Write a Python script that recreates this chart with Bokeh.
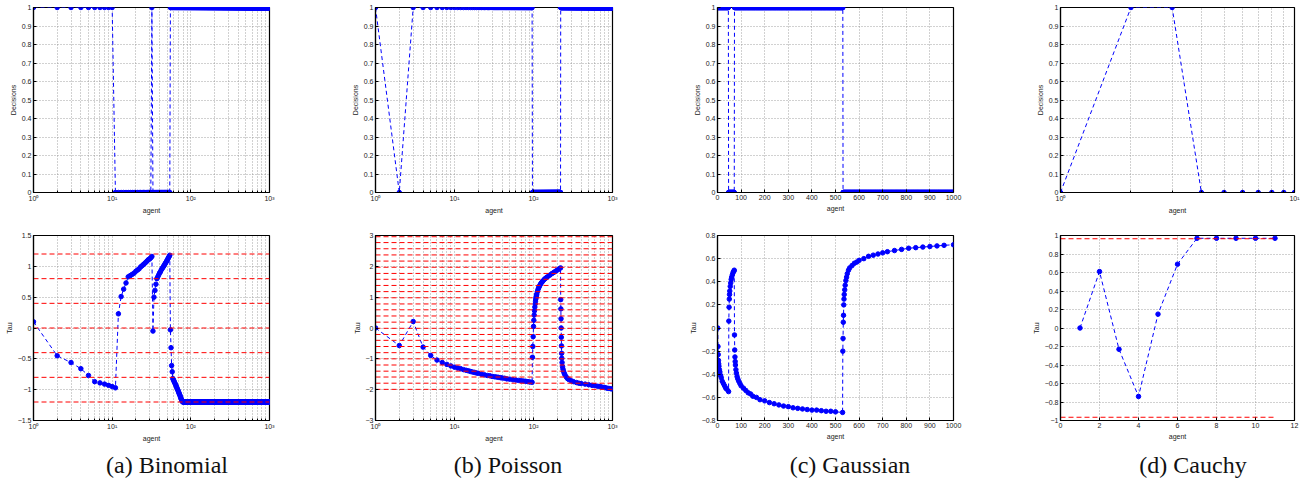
import numpy as np
from bokeh.plotting import figure
from bokeh.layouts import row, column
from bokeh.models import Range1d, FixedTicker, CustomJSTickFormatter, Div
from bokeh.embed import file_html
from bokeh.resources import INLINE

# ---------------------------------------------------------------- data
CAPTIONS = ["(a) Binomial", "(b) Poisson", "(c) Gaussian", "(d) Cauchy"]

# Decisions given as runs: (first agent, last agent, decision)
BINOM_DEC_RUNS = [(1, 10, 1), (11, 31, 0), (32, 32, 1), (33, 54, 0), (55, 1000, 1)]
POIS_DEC_RUNS = [(1, 1, 1), (2, 2, 0), (3, 96, 1), (97, 220, 0), (221, 1000, 1)]
GAUSS_DEC_RUNS = [(1, 46, 1), (47, 71, 0), (72, 531, 1), (532, 1000, 0)]
CAUCHY_DEC_AGENTS = [1, 2, 3, 4, 5, 6, 7, 8, 9, 10]
CAUCHY_DEC = [0, 1, 1, 0, 0, 0, 0, 0, 0, 0]

# Tau, Binomial: agents 1..79 one by one, then a flat run
BINOM_TAU_HEAD = [
    0.10, -0.45, -0.56, -0.66, -0.77, -0.87, -0.89, -0.91, -0.93, -0.95, -0.97,
    0.23, 0.51, 0.63, 0.73, 0.83,
    0.85, 0.87, 0.89, 0.92, 0.94, 0.96, 0.99, 1.01, 1.03, 1.05, 1.07, 1.09, 1.11, 1.12, 1.14, 1.16,
    -0.05, 0.50, 0.61, 0.71, 0.80,
    0.83, 0.86, 0.89, 0.91, 0.94, 0.96, 0.98, 1.00, 1.02, 1.04, 1.06, 1.08, 1.10, 1.12, 1.14, 1.16, 1.18,
    -0.03, -0.32, -0.61, -0.71, -0.82,
    -0.84, -0.86, -0.88, -0.90, -0.92, -0.94, -0.96, -0.98, -1.00, -1.02, -1.04, -1.06, -1.08,
    -1.10, -1.12, -1.14, -1.16, -1.18, -1.19, -1.20,
]
BINOM_TAU_TAIL_RUNS = [(80, 1000, -1.20)]
BINOM_RED = [1.2, 0.8, 0.4, 0.0, -0.4, -0.8, -1.2]
BINOM_RED_X = [1, 1000]

POIS_TAU = [
    (1, 0.00), (2, -0.57), (3, 0.21), (4, -0.62), (5, -0.89), (6, -1.04), (7, -1.12), (8, -1.18),
    (9, -1.23), (10, -1.27), (11, -1.30), (12, -1.32), (13, -1.35), (14, -1.37), (15, -1.39),
    (16, -1.41), (17, -1.43), (18, -1.44), (19, -1.46), (20, -1.47), (22, -1.50), (24, -1.52),
    (26, -1.54), (28, -1.55), (30, -1.57), (32, -1.58), (34, -1.59), (36, -1.60), (38, -1.61),
    (40, -1.62), (43, -1.63), (46, -1.65), (50, -1.66), (55, -1.68), (60, -1.69), (65, -1.70),
    (70, -1.71), (75, -1.72), (80, -1.73), (85, -1.74), (90, -1.75), (96, -1.76),
    (97, -0.95), (98, -0.60), (99, -0.28), (100, 0.05), (101, 0.25), (102, 0.42), (103, 0.56),
    (104, 0.68), (105, 0.78), (106, 0.87), (107, 0.94), (108, 1.00), (109, 1.06), (110, 1.10),
    (112, 1.18), (114, 1.25), (116, 1.30), (118, 1.34), (120, 1.38), (123, 1.43), (126, 1.47),
    (130, 1.51), (135, 1.56), (140, 1.60), (145, 1.63), (150, 1.66), (160, 1.71), (170, 1.76),
    (180, 1.80), (190, 1.84), (200, 1.88), (210, 1.91), (220, 1.95),
    (221, 0.92), (222, 0.62), (223, 0.30), (224, 0.00), (225, -0.30), (226, -0.58), (227, -0.82),
    (228, -0.98), (230, -1.12), (233, -1.25), (236, -1.33), (240, -1.40), (245, -1.47),
    (250, -1.52), (260, -1.59), (270, -1.64), (280, -1.67), (300, -1.71), (320, -1.74),
    (350, -1.77), (375, -1.79), (400, -1.80), (450, -1.82), (500, -1.84), (550, -1.86),
    (600, -1.87), (650, -1.89), (700, -1.90), (750, -1.92), (800, -1.93), (850, -1.95),
    (900, -1.96), (950, -1.97), (1000, -1.98),
]
POIS_RED = [-1.99, -1.79, -1.59, -1.40, -1.20, -1.00, -0.80, -0.60, -0.40, -0.21, -0.01, 0.19,
            0.39, 0.59, 0.78, 0.98, 1.18, 1.38, 1.58, 1.77, 1.97, 2.17, 2.37, 2.57, 2.77, 2.96]
POIS_RED_X = [1, 1000]

GAUSS_TAU = [
    (1, 0.00), (2, -0.16), (3, -0.23), (4, -0.28), (5, -0.31), (6, -0.33), (8, -0.36), (10, -0.38),
    (13, -0.41), (16, -0.43), (20, -0.46), (25, -0.48), (30, -0.50), (35, -0.52), (40, -0.53),
    (47, -0.55),
    (48, 0.06), (49, 0.18), (50, 0.25), (51, 0.29), (52, 0.32), (54, 0.36), (56, 0.39), (58, 0.42),
    (60, 0.44), (63, 0.46), (66, 0.48), (69, 0.49), (71, 0.50),
    (72, -0.06), (73, -0.19), (74, -0.25), (75, -0.29), (76, -0.32), (78, -0.36), (80, -0.39),
    (83, -0.42), (86, -0.44), (90, -0.46), (95, -0.48), (100, -0.50), (110, -0.52), (120, -0.54),
    (130, -0.56), (140, -0.57), (150, -0.59), (165, -0.60), (180, -0.62), (200, -0.63),
    (220, -0.645), (240, -0.655), (260, -0.665), (280, -0.675), (300, -0.68), (320, -0.69),
    (340, -0.695), (360, -0.70), (380, -0.705), (400, -0.71), (420, -0.71), (440, -0.715),
    (460, -0.72), (480, -0.72), (500, -0.725), (530, -0.73),
    (531, -0.20), (532, -0.09), (533, 0.05), (534, 0.11), (535, 0.20), (536, 0.25), (537, 0.29),
    (539, 0.33), (541, 0.37), (544, 0.41), (547, 0.44), (550, 0.47), (555, 0.50), (560, 0.52),
    (570, 0.54), (580, 0.56), (590, 0.57), (600, 0.585), (620, 0.60), (640, 0.62), (660, 0.63),
    (680, 0.64), (700, 0.65), (720, 0.66), (750, 0.67), (780, 0.68), (810, 0.69), (840, 0.695),
    (870, 0.70), (900, 0.705), (930, 0.71), (960, 0.715), (1000, 0.72),
]

CAUCHY_TAU_AGENTS = [1, 2, 3, 4, 5, 6, 7, 8, 9, 10, 11]
CAUCHY_TAU = [0.00, 0.61, -0.23, -0.74, 0.15, 0.69, 0.97, 0.97, 0.97, 0.97, 0.97]
CAUCHY_RED = [0.965, -0.965]
CAUCHY_RED_X = [0, 11]

# ticks
LOG3_TICKS = [1, 10, 100, 1000]
LOG3_MINOR = [2, 3, 4, 5, 6, 7, 8, 9, 20, 30, 40, 50, 60, 70, 80, 90,
              200, 300, 400, 500, 600, 700, 800, 900]
LOG1_TICKS = [1, 10]
LOG1_MINOR = [2, 3, 4, 5, 6, 7, 8, 9]
GAUSS_XTICKS = [0, 100, 200, 300, 400, 500, 600, 700, 800, 900, 1000]
CAUCHY_XTICKS = [0, 2, 4, 6, 8, 10, 12]
DEC_YTICKS = [0, 0.1, 0.2, 0.3, 0.4, 0.5, 0.6, 0.7, 0.8, 0.9, 1]
BINOM_YTICKS = [-1.5, -1, -0.5, 0, 0.5, 1, 1.5]
POIS_YTICKS = [-3, -2, -1, 0, 1, 2, 3]
GAUSS_YTICKS = [-0.8, -0.6, -0.4, -0.2, 0, 0.2, 0.4, 0.6, 0.8]
CAUCHY_YTICKS = [-1, -0.8, -0.6, -0.4, -0.2, 0, 0.2, 0.4, 0.6, 0.8, 1]


def expand(runs):
    xs, ys = [], []
    for a, b, v in runs:
        xs.extend(range(a, b + 1))
        ys.extend([v] * (b - a + 1))
    return xs, ys


# ---------------------------------------------------------------- style
BLUE = "#0000ff"
FONT = "Liberation Sans"

LOG_FMT = CustomJSTickFormatter(code="""
const sup = {'0':'\u2070','1':'\u00b9','2':'\u00b2','3':'\u00b3'};
const e = Math.round(Math.log10(tick));
return '10' + String(e).split('').map(c => sup[c]).join('');
""")


def num_fmt():
    return CustomJSTickFormatter(code="""
const v = Math.round(tick*1000)/1000;
if (v < 0) return '\u2212' + String(-v);
return String(v);
""")


# column geometry: (left border, frame width, right border)
COLS = [(33, 236, 53), (53, 237, 48), (57, 236, 32), (75, 234, 10)]
TOP_ROW = (7, 185, 28)
BOT_ROW = (15, 185, 25)


def panel(col, rowg, xlog, xr, yr, xticks, xminor, yticks, ylabel):
    bl, fw, br = COLS[col]
    bt, fh, bb = rowg
    p = figure(x_axis_type="log" if xlog else "linear",
               x_range=Range1d(*xr), y_range=Range1d(*yr),
               frame_width=fw, frame_height=fh,
               min_border_left=bl, min_border_right=br,
               min_border_top=bt, min_border_bottom=bb,
               output_backend="svg", toolbar_location=None,
               background_fill_color="white", border_fill_color="white")
    xt = FixedTicker(ticks=xticks, minor_ticks=xminor)
    yt = FixedTicker(ticks=yticks, minor_ticks=[])
    p.xaxis.ticker = xt
    p.yaxis.ticker = yt
    p.xgrid.ticker = xt
    p.ygrid.ticker = yt
    p.xaxis.formatter = LOG_FMT if xlog else num_fmt()
    p.yaxis.formatter = num_fmt()
    for ax in (p.xaxis, p.yaxis):
        ax.major_label_text_font = FONT
        ax.major_label_text_font_size = "7px"
        ax.major_label_text_color = "#222222"
        ax.axis_label_text_font = FONT
        ax.axis_label_text_font_size = "7px"
        ax.axis_label_text_font_style = "normal"
        ax.axis_label_text_color = "#222222"
        ax.axis_line_color = "black"
        ax.axis_line_width = 1.2
        ax.major_tick_in = 3
        ax.major_tick_out = 0
        ax.minor_tick_in = 2
        ax.minor_tick_out = 0
        ax.major_label_standoff = 2
        ax.axis_label_standoff = 2
    p.xaxis.axis_label = "agent"
    p.yaxis.axis_label = ylabel
    for g in (p.xgrid, p.ygrid):
        g.grid_line_color = "#8a8a8a"
        g.grid_line_dash = "1 2"
        g.grid_line_width = 0.8
    if xlog:
        p.xgrid.minor_grid_line_color = "#8a8a8a"
        p.xgrid.minor_grid_line_dash = "1 2"
        p.xgrid.minor_grid_line_width = 0.8
    p.outline_line_color = "black"
    p.outline_line_width = 1.2
    return p


def series(p, xs, ys, size=4.5):
    p.line(xs, ys, line_color=BLUE, line_width=1, line_dash="4 3")
    p.scatter(xs, ys, marker="circle", size=size, fill_color=BLUE, line_color=BLUE)


def red_lines(p, xr, ys):
    p.segment(x0=[xr[0]] * len(ys), y0=ys, x1=[xr[1]] * len(ys), y1=ys,
              line_color="#ff0000", line_width=1, line_dash="5 3")


# ---------------------------------------------------------------- top row
pa1 = panel(0, TOP_ROW, True, (1, 1000), (0, 1), LOG3_TICKS, LOG3_MINOR, DEC_YTICKS, "Decisions")
series(pa1, *expand(BINOM_DEC_RUNS))
pb1 = panel(1, TOP_ROW, True, (1, 1000), (0, 1), LOG3_TICKS, LOG3_MINOR, DEC_YTICKS, "Decisions")
series(pb1, *expand(POIS_DEC_RUNS))
pc1 = panel(2, TOP_ROW, False, (0, 1000), (0, 1), GAUSS_XTICKS, [], DEC_YTICKS, "Decisions")
series(pc1, *expand(GAUSS_DEC_RUNS))
pd1 = panel(3, TOP_ROW, True, (1, 10), (0, 1), LOG1_TICKS, LOG1_MINOR, DEC_YTICKS, "Decisions")
series(pd1, CAUCHY_DEC_AGENTS, CAUCHY_DEC)

# ---------------------------------------------------------------- bottom row
pa2 = panel(0, BOT_ROW, True, (1, 1000), (-1.5, 1.5), LOG3_TICKS, LOG3_MINOR, BINOM_YTICKS, "Tau")
bx = list(range(1, len(BINOM_TAU_HEAD) + 1))
tx, ty = expand(BINOM_TAU_TAIL_RUNS)
series(pa2, bx + tx, BINOM_TAU_HEAD + ty)
red_lines(pa2, BINOM_RED_X, BINOM_RED)

pb2 = panel(1, BOT_ROW, True, (1, 1000), (-3, 3), LOG3_TICKS, LOG3_MINOR, POIS_YTICKS, "Tau")
series(pb2, [a for a, _ in POIS_TAU], [v for _, v in POIS_TAU])
red_lines(pb2, POIS_RED_X, POIS_RED)

pc2 = panel(2, BOT_ROW, False, (0, 1000), (-0.8, 0.8), GAUSS_XTICKS, [], GAUSS_YTICKS, "Tau")
series(pc2, [a for a, _ in GAUSS_TAU], [v for _, v in GAUSS_TAU])

pd2 = panel(3, BOT_ROW, False, (0, 12), (-1, 1), CAUCHY_XTICKS, [], CAUCHY_YTICKS, "Tau")
series(pd2, CAUCHY_TAU_AGENTS, CAUCHY_TAU)
red_lines(pd2, CAUCHY_RED_X, CAUCHY_RED)

# ---------------------------------------------------------------- captions
CAP_CENTERS = [162, 503, 845, 1188]
SERIF = "'Liberation Serif','Times New Roman',Times,serif"
spans = "".join(
    f'<span style="position:absolute;left:{c - 110}px;top:1px;width:220px;'
    f'text-align:center;white-space:nowrap;font-family:{SERIF};font-size:24px;">{t}</span>'
    for c, t in zip(CAP_CENTERS, CAPTIONS))
cap = Div(text=f'<div style="position:relative;width:1300px;height:38px;'
               f'font-family:{SERIF};font-size:24px;line-height:28px;'
               f'color:#111;">{spans}</div>',
          width=1300, height=38)

layout = column(row(pa1, pb1, pc1, pd1), row(pa2, pb2, pc2, pd2), cap)

with open("out.html", "w") as f:
    f.write(file_html(layout, INLINE))
